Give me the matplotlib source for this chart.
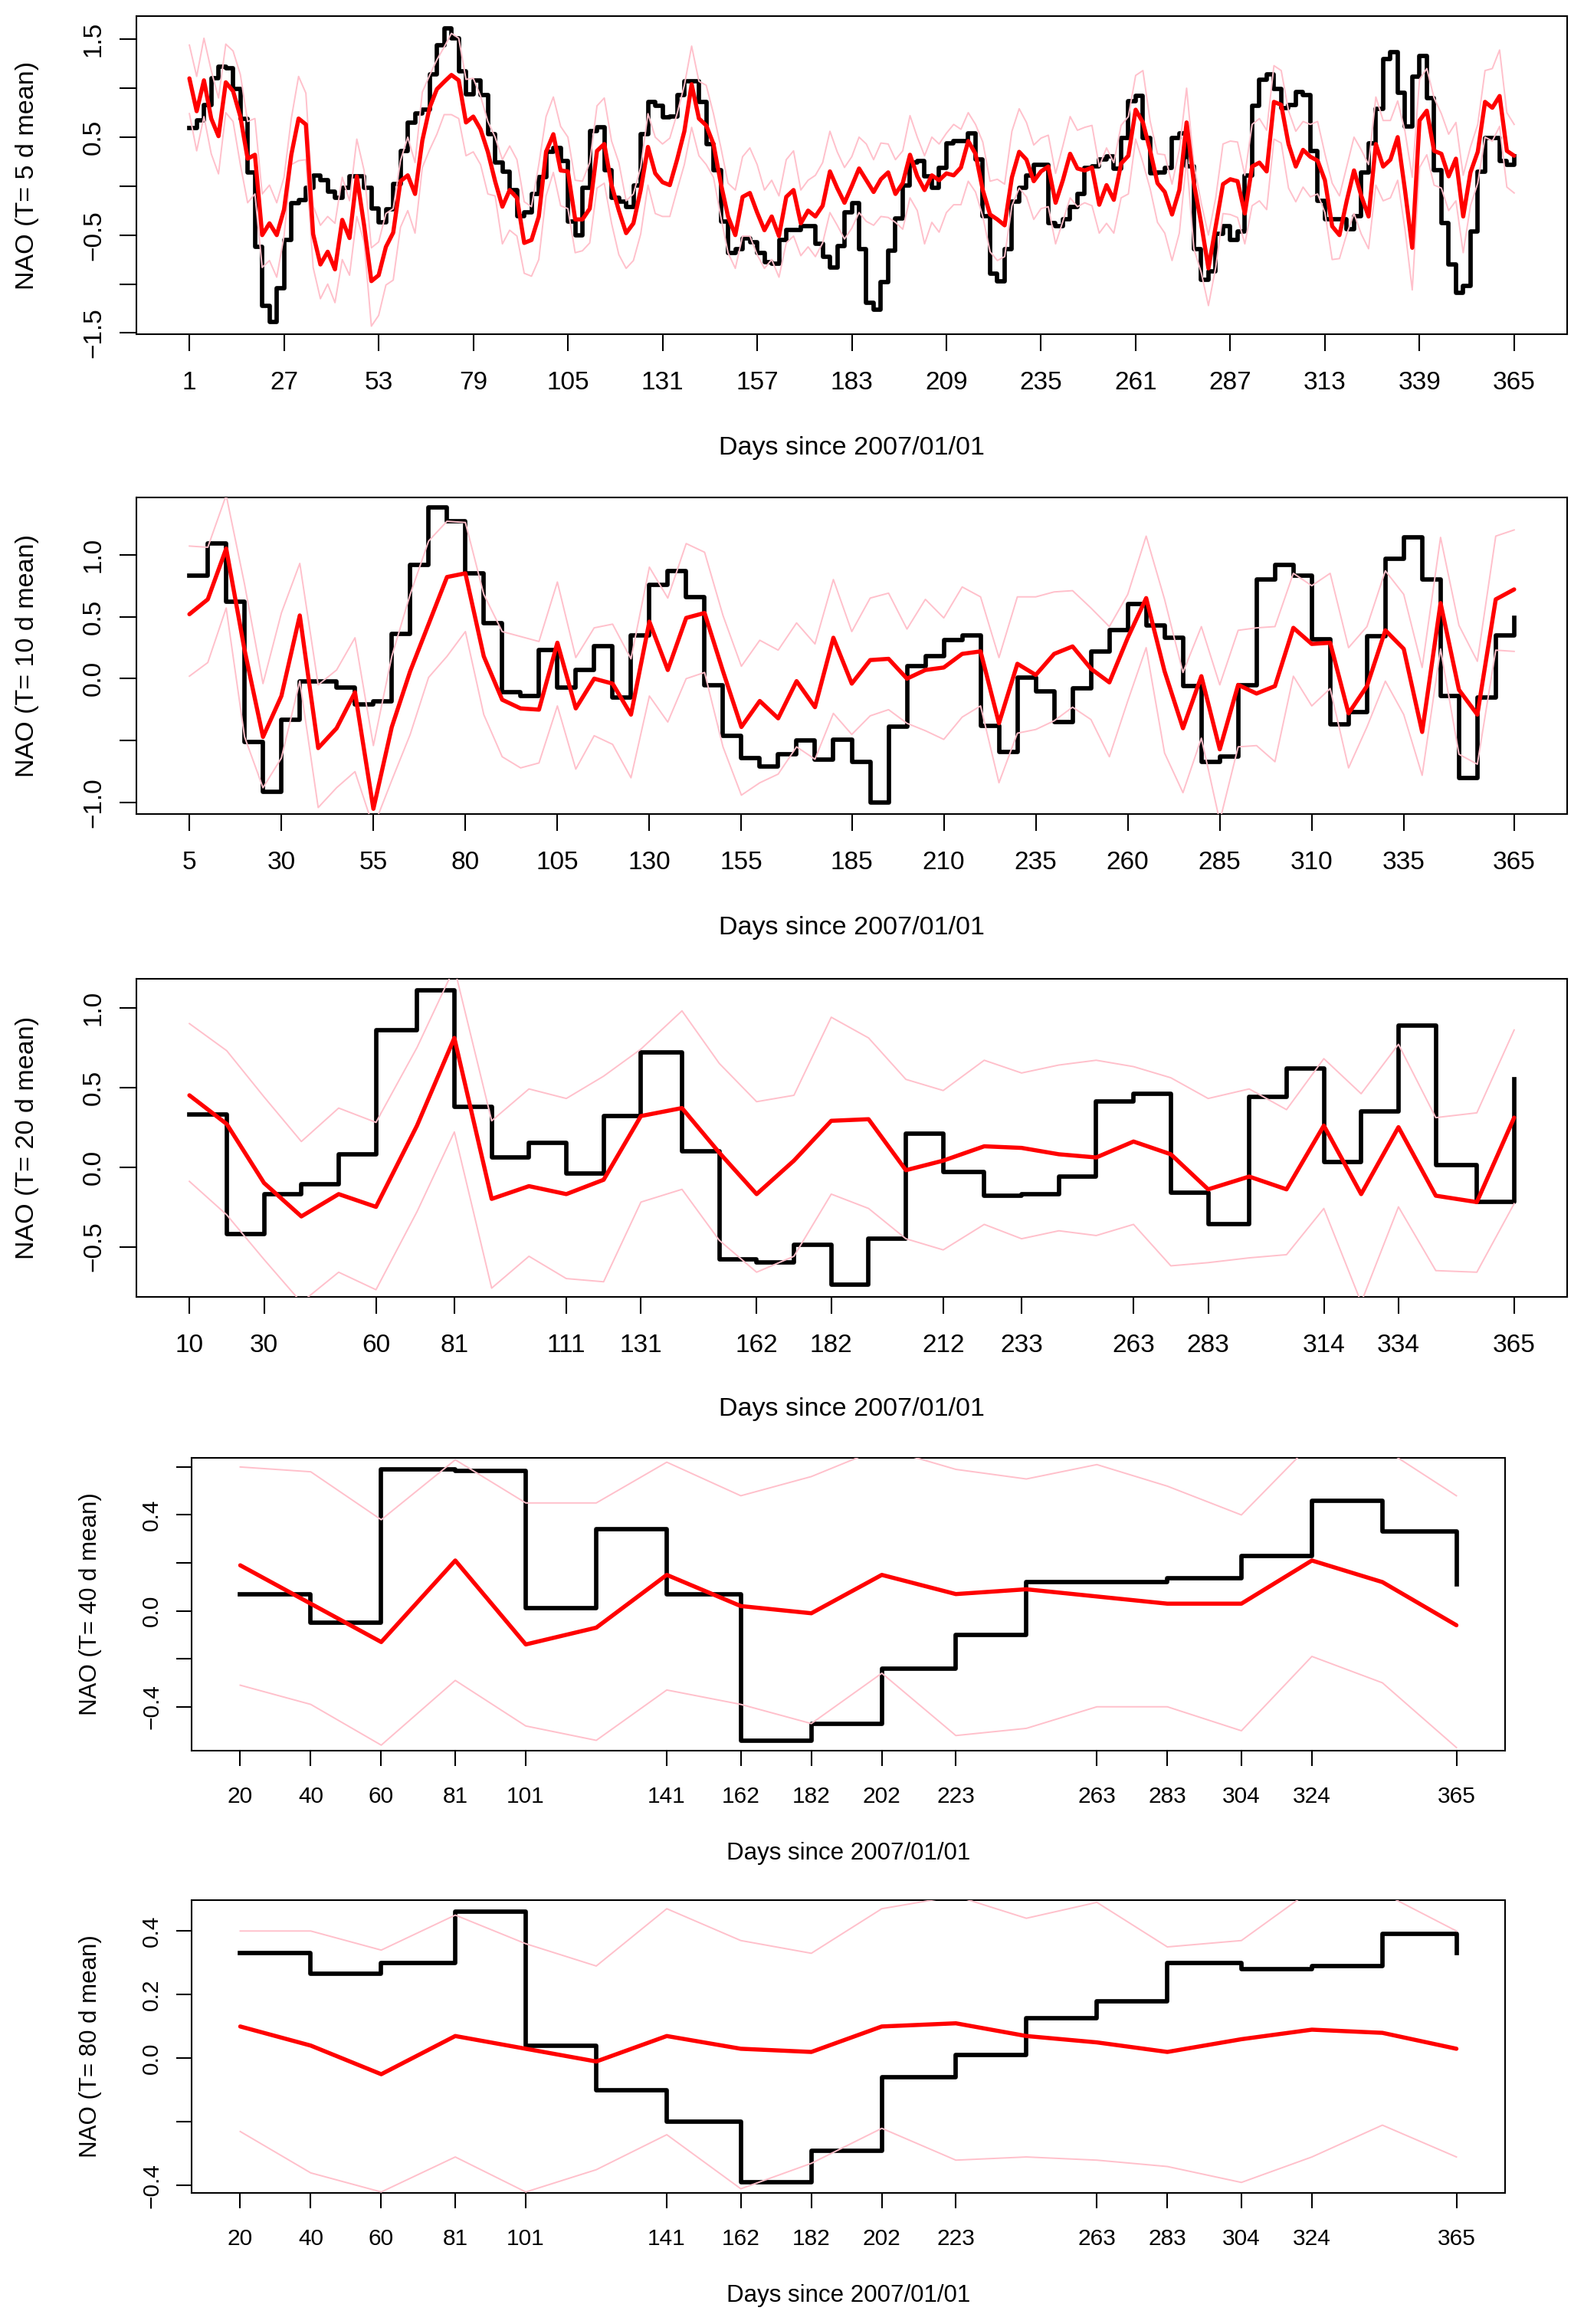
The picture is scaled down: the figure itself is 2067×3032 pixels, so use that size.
import matplotlib
matplotlib.use("Agg")
import matplotlib.pyplot as plt

plt.rcParams['font.family'] = ['Liberation Sans', 'DejaVu Sans']

# ---------------- data ----------------
# T = 5 d
days5 = list(range(1, 366, 2))
obs5 = [0.59, 0.67, 0.83, 1.10, 1.22, 1.20, 0.99, 0.69, 0.14, -0.62,
        -1.22, -1.39, -1.04, -0.55, -0.175, -0.14, -0.02, 0.11, 0.06, -0.06,
        -0.12, -0.02, 0.10, 0.10, -0.02, -0.23, -0.37, -0.24, 0.02, 0.36,
        0.65, 0.74, 0.78, 1.14, 1.44, 1.61, 1.51, 1.17, 0.94, 1.08,
        0.93, 0.53, 0.24, 0.15, -0.04, -0.31, -0.27, -0.08, 0.09, 0.35,
        0.39, 0.26, -0.36, -0.50, -0.02, 0.56, 0.60, 0.16, -0.12, -0.16,
        -0.21, 0.01, 0.53, 0.86, 0.82, 0.70, 0.71, 0.93, 1.07, 1.07,
        0.86, 0.43, 0.16, -0.36, -0.68, -0.64, -0.53, -0.57, -0.68, -0.78,
        -0.79, -0.55, -0.45, -0.45, -0.41, -0.41, -0.59, -0.72, -0.83, -0.61,
        -0.27, -0.17, -0.64, -1.19, -1.26, -0.98, -0.66, -0.33, 0.01, 0.24,
        0.26, 0.10, -0.02, 0.19, 0.44, 0.46, 0.46, 0.54, 0.27, -0.31,
        -0.89, -0.97, -0.64, -0.16, -0.02, 0.11, 0.22, 0.22, -0.38, -0.41,
        -0.34, -0.21, -0.08, 0.19, 0.20, 0.27, 0.30, 0.18, 0.49, 0.87,
        0.92, 0.49, 0.13, 0.14, 0.19, 0.49, 0.54, 0.20, -0.64, -0.96,
        -0.87, -0.49, -0.41, -0.55, -0.46, 0.11, 0.82, 1.09, 1.14, 0.99,
        0.80, 0.83, 0.96, 0.93, 0.36, -0.15, -0.34, -0.34, -0.34, -0.44,
        -0.31, 0.14, 0.44, 0.79, 1.30, 1.37, 0.95, 0.61, 1.12, 1.33,
        0.90, 0.16, -0.38, -0.80, -1.09, -1.02, -0.46, 0.15, 0.49, 0.49,
        0.26, 0.22, 0.30]
fc5 = [1.10, 0.765, 1.08, 0.69, 0.51, 1.06, 0.97, 0.71, 0.28, 0.32,
       -0.50, -0.38, -0.50, -0.24, 0.32, 0.69, 0.63, -0.49, -0.80, -0.67,
       -0.85, -0.345, -0.53, 0.10, -0.40, -0.97, -0.91, -0.62, -0.475, 0.05,
       0.11, -0.08, 0.465, 0.80, 0.99, 1.065, 1.135, 1.08, 0.65, 0.71,
       0.58, 0.35, 0.05, -0.21, -0.04, -0.12, -0.58, -0.55, -0.31, 0.35,
       0.53, 0.16, 0.15, -0.34, -0.34, -0.23, 0.36, 0.43, 0.01, -0.25,
       -0.48, -0.38, -0.04, 0.40, 0.13, 0.04, 0.01, 0.27, 0.56, 1.04,
       0.69, 0.62, 0.43, 0.03, -0.31, -0.50, -0.11, -0.07, -0.27, -0.45,
       -0.31, -0.51, -0.11, -0.04, -0.38, -0.25, -0.31, -0.20, 0.15, -0.02,
       -0.17, 0.00, 0.18, 0.06, -0.06, 0.07, 0.14, -0.08, 0.03, 0.32,
       0.10, -0.04, 0.11, 0.06, 0.13, 0.11, 0.19, 0.46, 0.33, -0.04,
       -0.29, -0.34, -0.40, 0.09, 0.35, 0.27, 0.05, 0.15, 0.20, -0.17,
       0.06, 0.33, 0.18, 0.16, 0.19, -0.19, 0.01, -0.14, 0.23, 0.31,
       0.78, 0.65, 0.36, 0.03, -0.06, -0.29, -0.04, 0.65, 0.03, -0.38,
       -0.84, -0.41, 0.02, 0.07, 0.05, -0.28, 0.20, 0.24, 0.15, 0.86,
       0.83, 0.43, 0.20, 0.37, 0.30, 0.26, 0.06, -0.41, -0.50, -0.15,
       0.16, -0.10, -0.31, 0.43, 0.20, 0.27, 0.50, -0.04, -0.63, 0.67,
       0.77, 0.36, 0.33, 0.10, 0.28, -0.31, 0.14, 0.35, 0.86, 0.80,
       0.92, 0.36, 0.31]
hi5 = [1.44, 1.12, 1.51, 1.18, 0.90, 1.45, 1.38, 1.14, 0.66, 0.69,
       -0.08, 0.01, -0.17, 0.09, 0.69, 1.12, 0.95, -0.20, -0.40, -0.31,
       -0.38, 0.09, -0.15, 0.48, 0.16, -0.63, -0.57, -0.28, -0.23, 0.26,
       0.50, 0.24, 0.96, 1.13, 1.29, 1.42, 1.56, 1.51, 1.09, 1.10,
       0.92, 0.66, 0.50, 0.27, 0.41, 0.27, -0.16, -0.21, 0.22, 0.71,
       0.91, 0.61, 0.50, 0.06, 0.05, 0.24, 0.82, 0.90, 0.46, 0.24,
       -0.15, -0.08, 0.19, 0.74, 0.50, 0.43, 0.49, 0.74, 1.03, 1.43,
       1.07, 1.03, 0.74, 0.40, 0.03, -0.04, 0.30, 0.39, 0.22, -0.04,
       0.06, -0.10, 0.27, 0.36, -0.04, 0.06, 0.11, 0.24, 0.56, 0.35,
       0.19, 0.30, 0.50, 0.43, 0.27, 0.44, 0.43, 0.27, 0.36, 0.72,
       0.50, 0.31, 0.50, 0.43, 0.54, 0.63, 0.58, 0.75, 0.63, 0.45,
       0.05, 0.07, 0.02, 0.56, 0.79, 0.65, 0.42, 0.49, 0.52, 0.13,
       0.41, 0.71, 0.57, 0.60, 0.62, 0.20, 0.39, 0.24, 0.62, 0.71,
       1.13, 1.18, 0.66, 0.33, 0.32, 0.02, 0.37, 1.00, 0.22, -0.17,
       -0.50, -0.12, 0.43, 0.46, 0.45, 0.11, 0.63, 0.69, 0.57, 1.23,
       1.18, 0.77, 0.56, 0.66, 0.63, 0.66, 0.33, 0.03, -0.10, 0.20,
       0.50, 0.37, 0.22, 0.91, 0.67, 0.67, 0.87, 0.56, 0.09, 1.09,
       1.20, 0.90, 0.74, 0.53, 0.65, 0.11, 0.40, 0.63, 1.18, 1.20,
       1.39, 0.75, 0.63]
lo5 = [0.74, 0.36, 0.71, 0.33, 0.125, 0.75, 0.66, 0.22, -0.17, -0.08,
       -0.83, -0.76, -0.93, -0.51, 0.22, 0.26, 0.27, -0.83, -1.15, -1.00,
       -1.19, -0.75, -0.91, -0.31, -0.57, -1.43, -1.32, -1.01, -0.96, -0.42,
       -0.25, -0.48, 0.19, 0.37, 0.53, 0.73, 0.73, 0.69, 0.31, 0.35,
       0.22, -0.08, -0.10, -0.59, -0.45, -0.51, -0.89, -0.92, -0.75, -0.10,
       0.14, -0.20, -0.23, -0.68, -0.66, -0.58, -0.02, 0.03, -0.38, -0.70,
       -0.84, -0.76, -0.49, 0.01, -0.28, -0.31, -0.31, -0.04, 0.22, 0.60,
       0.31, 0.22, 0.09, -0.31, -0.68, -0.84, -0.51, -0.51, -0.70, -0.84,
       -0.75, -0.93, -0.58, -0.51, -0.71, -0.62, -0.72, -0.58, -0.27, -0.40,
       -0.54, -0.43, -0.27, -0.36, -0.40, -0.31, -0.32, -0.37, -0.44, -0.12,
       -0.25, -0.59, -0.37, -0.47, -0.27, -0.19, -0.19, 0.05, -0.06, -0.31,
       -0.67, -0.76, -0.72, -0.20, -0.02, -0.11, -0.34, -0.23, -0.21, -0.59,
       -0.36, -0.12, -0.21, -0.17, -0.20, -0.48, -0.38, -0.48, -0.12, -0.08,
       0.48, 0.24, -0.03, -0.37, -0.48, -0.76, -0.48, 0.27, -0.64, -0.88,
       -1.22, -0.83, -0.28, -0.29, -0.32, -0.59, -0.20, -0.15, -0.24, 0.48,
       0.44, -0.02, -0.16, -0.01, -0.11, -0.08, -0.27, -0.75, -0.74, -0.49,
       -0.28, -0.49, -0.64, 0.01, -0.15, -0.12, 0.06, -0.44, -1.06, 0.19,
       0.32, 0.01, -0.02, -0.25, -0.15, -0.68, -0.20, 0.03, 0.50, 0.46,
       0.61, -0.01, -0.07]
xt5 = [1, 27, 53, 79, 105, 131, 157, 183, 209, 235, 261, 287, 313, 339, 365]

# T = 10 d
days10 = list(range(5, 366, 5))
obs10 = [0.83, 1.09, 0.62, -0.51, -0.91, -0.33, -0.02, -0.02, -0.07, -0.21,
         -0.18, 0.36, 0.92, 1.38, 1.27, 0.85, 0.45, -0.11, -0.14, 0.23,
         -0.07, 0.07, 0.26, -0.15, 0.35, 0.76, 0.87, 0.66, -0.05, -0.46,
         -0.64, -0.71, -0.61, -0.50, -0.65, -0.49, -0.67, -1.00, -0.39, 0.10,
         0.18, 0.31, 0.35, -0.38, -0.59, 0.01, -0.10, -0.35, -0.08, 0.22,
         0.39, 0.60, 0.43, 0.33, -0.06, -0.67, -0.63, -0.05, 0.80, 0.92,
         0.83, 0.32, -0.37, -0.27, 0.34, 0.97, 1.14, 0.80, -0.14, -0.80,
         -0.15, 0.35, 0.49]
fc10 = [0.52, 0.64, 1.05, 0.23, -0.47, -0.14, 0.51, -0.56, -0.40, -0.11,
        -1.05, -0.39, 0.06, 0.44, 0.82, 0.85, 0.18, -0.17, -0.24, -0.25,
        0.29, -0.24, 0.00, -0.04, -0.29, 0.46, 0.07, 0.49, 0.53, 0.06,
        -0.39, -0.18, -0.32, -0.02, -0.23, 0.33, -0.04, 0.15, 0.16, 0.00,
        0.07, 0.09, 0.20, 0.22, -0.36, 0.12, 0.03, 0.20, 0.26, 0.08,
        -0.03, 0.33, 0.65, 0.06, -0.40, 0.02, -0.57, -0.05, -0.12, -0.06,
        0.41, 0.28, 0.29, -0.28, -0.06, 0.39, 0.24, -0.43, 0.61, -0.09,
        -0.29, 0.64, 0.72]
hi10 = [1.07, 1.06, 1.48, 0.76, -0.04, 0.53, 0.93, -0.05, 0.07, 0.33,
        -0.54, 0.18, 0.68, 1.11, 1.27, 1.26, 0.68, 0.38, 0.34, 0.30,
        0.78, 0.17, 0.41, 0.44, 0.16, 0.90, 0.65, 1.09, 1.02, 0.51,
        0.10, 0.31, 0.23, 0.45, 0.28, 0.80, 0.38, 0.65, 0.69, 0.40,
        0.64, 0.49, 0.74, 0.66, 0.17, 0.66, 0.66, 0.70, 0.71, 0.57,
        0.42, 0.68, 1.15, 0.64, 0.05, 0.42, -0.05, 0.39, 0.41, 0.42,
        0.85, 0.75, 0.85, 0.25, 0.42, 0.87, 0.68, 0.09, 1.14, 0.43,
        0.14, 1.15, 1.20]
lo10 = [0.02, 0.13, 0.57, -0.47, -0.88, -0.64, -0.02, -1.04, -0.88, -0.75,
        -1.20, -0.82, -0.45, 0.01, 0.18, 0.38, -0.29, -0.63, -0.72, -0.68,
        -0.22, -0.73, -0.46, -0.53, -0.80, -0.14, -0.35, 0.00, 0.05, -0.55,
        -0.94, -0.84, -0.77, -0.55, -0.65, -0.28, -0.45, -0.30, -0.25, -0.36,
        -0.42, -0.49, -0.31, -0.22, -0.84, -0.44, -0.41, -0.34, -0.23, -0.33,
        -0.63, -0.18, 0.25, -0.60, -0.92, -0.48, -1.15, -0.55, -0.54, -0.67,
        0.02, -0.22, -0.08, -0.72, -0.39, -0.02, -0.29, -0.78, 0.24, -0.61,
        -0.69, 0.23, 0.22]
xt10 = [5, 30, 55, 80, 105, 130, 155, 185, 210, 235, 260, 285, 310, 335, 365]

# T = 20 d
days20 = [10, 20, 30, 40, 50, 60, 71, 81, 91, 101, 111, 121, 131, 142, 152, 162, 172, 182,
          192, 202, 212, 223, 233, 243, 253, 263, 273, 283, 294, 304, 314, 324, 334, 344, 355, 365]
obs20 = [0.33, -0.42, -0.17, -0.11, 0.08, 0.86, 1.11, 0.38, 0.06, 0.15,
         -0.04, 0.32, 0.72, 0.10, -0.58, -0.60, -0.49, -0.74, -0.45, 0.21,
         -0.03, -0.18, -0.17, -0.06, 0.41, 0.46, -0.16, -0.36, 0.44, 0.62,
         0.03, 0.35, 0.89, 0.01, -0.22, 0.55]
fc20 = [0.45, 0.27, -0.10, -0.31, -0.17, -0.25, 0.26, 0.81, -0.20, -0.12,
        -0.17, -0.08, 0.32, 0.37, 0.09, -0.17, 0.04, 0.29, 0.30, -0.02,
        0.04, 0.13, 0.12, 0.08, 0.06, 0.16, 0.08, -0.14, -0.06, -0.14,
        0.26, -0.17, 0.25, -0.18, -0.22, 0.31]
hi20 = [0.90, 0.73, 0.44, 0.16, 0.37, 0.28, 0.75, 1.25, 0.29, 0.49,
        0.43, 0.57, 0.74, 0.98, 0.65, 0.41, 0.45, 0.94, 0.81, 0.55,
        0.48, 0.67, 0.59, 0.64, 0.67, 0.63, 0.56, 0.43, 0.49, 0.36,
        0.68, 0.46, 0.77, 0.31, 0.34, 0.86]
lo20 = [-0.09, -0.30, -0.58, -0.85, -0.66, -0.77, -0.28, 0.22, -0.76, -0.56,
        -0.70, -0.72, -0.22, -0.14, -0.46, -0.66, -0.56, -0.17, -0.26, -0.45,
        -0.52, -0.36, -0.45, -0.40, -0.43, -0.36, -0.62, -0.60, -0.57, -0.55,
        -0.26, -0.85, -0.25, -0.65, -0.66, -0.23]
xt20 = [10, 30, 60, 81, 111, 131, 162, 182, 212, 233, 263, 283, 314, 334, 365]

# T = 40 d
days40 = [20, 40, 60, 81, 101, 121, 141, 162, 182, 202, 223, 243, 263, 283, 304, 324, 344, 365]
obs40 = [0.07, -0.05, 0.59, 0.585, 0.01, 0.34, 0.07, -0.54, -0.47, -0.24,
         -0.10, 0.12, 0.12, 0.135, 0.23, 0.46, 0.33, 0.11]
fc40 = [0.19, 0.03, -0.13, 0.21, -0.14, -0.07, 0.15, 0.02, -0.01, 0.15,
        0.07, 0.09, 0.06, 0.03, 0.03, 0.21, 0.12, -0.06]
hi40 = [0.60, 0.58, 0.38, 0.63, 0.45, 0.45, 0.62, 0.48, 0.56, 0.68,
        0.59, 0.55, 0.61, 0.52, 0.40, 0.70, 0.68, 0.48]
lo40 = [-0.31, -0.39, -0.56, -0.29, -0.48, -0.54, -0.33, -0.39, -0.47, -0.26,
        -0.52, -0.49, -0.40, -0.40, -0.50, -0.19, -0.30, -0.57]
xt40 = [20, 40, 60, 81, 101, 141, 162, 182, 202, 223, 263, 283, 304, 324, 365]

# T = 80 d
days80 = [20, 40, 60, 81, 101, 121, 141, 162, 182, 202, 223, 243, 263, 283, 304, 324, 344, 365]
obs80 = [0.33, 0.265, 0.30, 0.46, 0.04, -0.10, -0.20, -0.39, -0.29, -0.06,
         0.01, 0.125, 0.18, 0.30, 0.28, 0.29, 0.39, 0.33]
fc80 = [0.10, 0.04, -0.05, 0.07, 0.03, -0.01, 0.07, 0.03, 0.02, 0.10,
        0.11, 0.07, 0.05, 0.02, 0.06, 0.09, 0.08, 0.03]
hi80 = [0.40, 0.40, 0.34, 0.45, 0.36, 0.29, 0.47, 0.37, 0.33, 0.47,
        0.51, 0.44, 0.49, 0.35, 0.37, 0.53, 0.52, 0.40]
lo80 = [-0.23, -0.36, -0.42, -0.31, -0.42, -0.35, -0.24, -0.41, -0.33, -0.22,
        -0.32, -0.31, -0.32, -0.34, -0.39, -0.31, -0.21, -0.31]
xt80 = [20, 40, 60, 81, 101, 141, 162, 182, 202, 223, 263, 283, 304, 324, 365]

xlab = "Days since 2007/01/01"

# ---------------- figure ----------------
W, H, DPI = 2067, 3032, 100
fig = plt.figure(figsize=(W / DPI, H / DPI), dpi=DPI)

M = u"\u2212"
panels = [
    dict(days=days5, obs=obs5, fc=fc5, hi=hi5, lo=lo5, xt=xt5,
         box=(178, 21, 2045, 436), xlim=(-13.56, 379.56), ylim=(-1.512, 1.736),
         yt=[-1.5, -1.0, -0.5, 0.0, 0.5, 1.0, 1.5],
         ytl=[M + "1.5", "", M + "0.5", "", "0.5", "", "1.5"],
         ylab="NAO (T= 5 d mean)", fs=24.5, tfs=24, tl=22, xl_off=148, yl_x=36),
    dict(days=days10, obs=obs10, fc=fc10, hi=hi10, lo=lo10, xt=xt10,
         box=(178, 649, 2045, 1062), xlim=(-9.4, 379.4), ylim=(-1.092, 1.462),
         yt=[-1.0, -0.5, 0.0, 0.5, 1.0],
         ytl=[M + "1.0", "", "0.0", "0.5", "1.0"],
         ylab="NAO (T= 10 d mean)", fs=24.5, tfs=24, tl=22, xl_off=148, yl_x=36),
    dict(days=days20, obs=obs20, fc=fc20, hi=hi20, lo=lo20, xt=xt20,
         box=(178, 1277, 2045, 1692), xlim=(-4.2, 379.2), ylim=(-0.815, 1.181),
         yt=[-0.5, 0.0, 0.5, 1.0],
         ytl=[M + "0.5", "0.0", "0.5", "1.0"],
         ylab="NAO (T= 20 d mean)", fs=24.5, tfs=24, tl=22, xl_off=146, yl_x=36),
    dict(days=days40, obs=obs40, fc=fc40, hi=hi40, lo=lo40, xt=xt40,
         box=(250, 1902, 1964, 2284), xlim=(6.2, 378.8), ylim=(-0.583, 0.638),
         yt=[-0.4, -0.2, 0.0, 0.2, 0.4, 0.6],
         ytl=[M + "0.4", "", "0.0", "", "0.4", ""],
         ylab="NAO (T= 40 d mean)", fs=22.5, tfs=21.5, tl=19.6, xl_off=134, yl_x=118),
    dict(days=days80, obs=obs80, fc=fc80, hi=hi80, lo=lo80, xt=xt80,
         box=(250, 2479, 1964, 2861), xlim=(6.2, 378.8), ylim=(-0.423, 0.497),
         yt=[-0.4, -0.2, 0.0, 0.2, 0.4],
         ytl=[M + "0.4", "", "0.0", "0.2", "0.4"],
         ylab="NAO (T= 80 d mean)", fs=22.5, tfs=21.5, tl=19.6, xl_off=134, yl_x=118),
]

PX = 72.0 / DPI  # points per pixel

for p in panels:
    l, t, r, b = p["box"]
    ax = fig.add_axes([l / W, 1 - b / H, (r - l) / W, (b - t) / H])
    ax.plot(p["days"], p["obs"], color="black", lw=4.1, drawstyle="steps-post", zorder=2)
    ax.plot(p["days"], p["hi"], color="pink", lw=1.4, zorder=3)
    ax.plot(p["days"], p["lo"], color="pink", lw=1.4, zorder=3)
    ax.plot(p["days"], p["fc"], color="red", lw=3.9, zorder=4,
            solid_joinstyle="round", solid_capstyle="round")
    ax.set_xlim(*p["xlim"])
    ax.set_ylim(*p["ylim"])
    ax.set_xticks(p["xt"])
    ax.set_xticklabels([str(v) for v in p["xt"]])
    ax.set_yticks(p["yt"])
    ax.set_yticklabels(p["ytl"], rotation=90, va="center")
    ax.tick_params(axis="both", direction="out", length=p["tl"] * PX, width=1.5,
                   labelsize=p["tfs"], colors="black")
    ax.tick_params(axis="x", pad=19)
    ax.tick_params(axis="y", pad=13)
    for s in ax.spines.values():
        s.set_linewidth(1.5)
    cx = (l + r) / 2.0
    fig.text(cx / W, 1 - (b + p["xl_off"]) / H, xlab, ha="center", va="center",
             fontsize=p["fs"])
    fig.text(p["yl_x"] / W, 1 - ((t + b) / 2.0) / H, p["ylab"], ha="center",
             va="center", rotation=90, fontsize=p["fs"])

fig.savefig("out.png", dpi=DPI, facecolor="white")
